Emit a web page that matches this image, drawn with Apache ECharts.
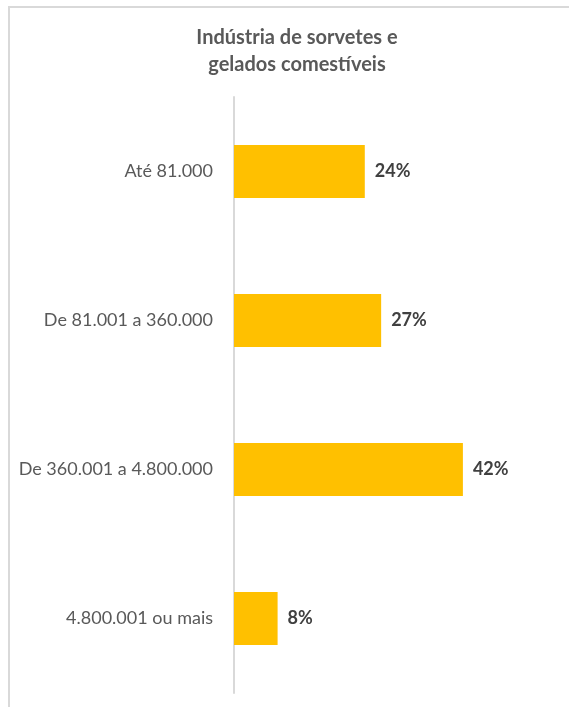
<!DOCTYPE html>
<html>
<head>
<meta charset="utf-8">
<script src="https://cdn.jsdelivr.net/npm/echarts@6/dist/echarts.min.js"></script>
<style>
  body { margin: 0; background: #fff; }
  #frame {
    position: absolute; left: 8px; top: 6px; width: 600px; height: 760px;
    border: 2px solid #d9d9d9; box-sizing: border-box;
  }
  #chart { position: absolute; left: 0; top: 0; width: 569px; height: 707px; }
</style>
</head>
<body>
<div id="frame"></div>
<div id="chart"></div>
<script>
  // faixas de receita bruta anual
  const categories = ['Até 81.000', 'De 81.001 a 360.000', 'De 360.001 a 4.800.000', '4.800.001 ou mais'];
  const shares = [24, 27, 42, 8];

  let chart = echarts.init(document.getElementById('chart'));
  let option = {
    title: {
      text: 'Indústria de sorvetes e\ngelados comestíveis',
      left: 297,
      top: 24,
      padding: 0,
      textAlign: 'center',
      textStyle: {
        fontFamily: 'Lato',
        fontSize: 20,
        fontWeight: 'bold',
        color: '#595959',
        lineHeight: 27
      }
    },
    grid: {
      left: 234,
      top: 97,
      width: 327,
      height: 596
    },
    xAxis: {
      type: 'value',
      min: 0,
      max: 60,
      show: false,
      splitLine: { show: false }
    },
    yAxis: {
      type: 'category',
      inverse: true,
      data: categories,
      axisTick: { show: false },
      axisLine: { lineStyle: { color: '#d9d9d9', width: 2 } },
      axisLabel: {
        margin: 21,
        fontFamily: 'Lato',
        fontSize: 18,
        color: '#595959'
      }
    },
    series: [
      {
        type: 'bar',
        data: shares,
        barWidth: 53,
        itemStyle: { color: '#FFC000' },
        label: {
          show: true,
          position: 'right',
          distance: 10,
          formatter: '{c}%',
          fontFamily: 'Lato',
          fontSize: 18,
          fontWeight: 'bold',
          color: '#404040'
        }
      }
    ]
  };
  chart.setOption(option);
</script>
</body>
</html>
